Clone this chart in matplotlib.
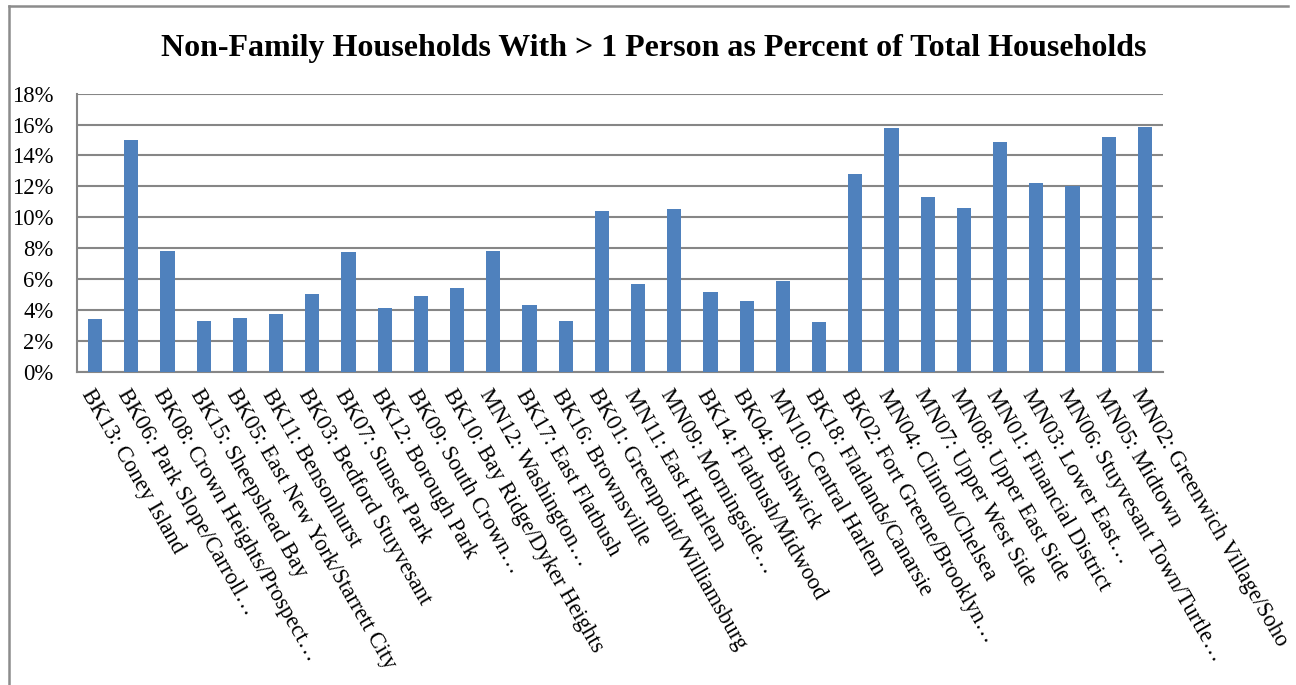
import numpy as np
import matplotlib
matplotlib.use('Agg')
from matplotlib import pyplot as plt
from matplotlib.lines import Line2D
from matplotlib.ticker import FuncFormatter, MultipleLocator

districts = ['BK13: Coney Island', 'BK06: Park Slope/Carroll\u2026',
             'BK08: Crown Heights/Prospect\u2026', 'BK15: Sheepshead Bay',
             'BK05: East New York/Starrett City', 'BK11: Bensonhurst',
             'BK03: Bedford Stuyvesant', 'BK07: Sunset Park',
             'BK12: Borough Park', 'BK09: South Crown\u2026',
             'BK10: Bay Ridge/Dyker Heights', 'MN12: Washington\u2026',
             'BK17: East Flatbush', 'BK16: Brownsville',
             'BK01: Greenpoint/Williamsburg', 'MN11: East Harlem',
             'MN09: Morningside\u2026', 'BK14: Flatbush/Midwood',
             'BK04: Bushwick', 'MN10: Central Harlem',
             'BK18: Flatlands/Canarsie', 'BK02: Fort Greene/Brooklyn\u2026',
             'MN04: Clinton/Chelsea', 'MN07: Upper West Side',
             'MN08: Upper East Side', 'MN01: Financial District',
             'MN03: Lower East\u2026', 'MN06: Stuyvesant Town/Turtle\u2026',
             'MN05: Midtown', 'MN02: Greenwich Village/Soho']
pct = [3.39, 14.98, 7.81, 3.30, 3.45, 3.76, 5.01, 7.73, 4.14, 4.88,
       5.42, 7.83, 4.32, 3.30, 10.40, 5.65, 10.53, 5.14, 4.58, 5.85,
       3.19, 12.78, 15.80, 11.31, 10.60, 14.85, 12.24, 12.00, 15.19, 15.86]

plt.rcParams['font.family'] = ['Liberation Serif', 'DejaVu Serif']

fig = plt.figure(figsize=(12.96, 6.85), dpi=100)
ax = fig.add_axes([0.0594, 0.4574, 0.838, 0.4058])

x = np.arange(len(districts))
ax.bar(x, pct, width=0.39, color='#4F81BD', zorder=3)

ax.set_xlim(-0.5, len(districts) - 0.5)
ax.set_ylim(0, 18)
ax.yaxis.set_major_locator(MultipleLocator(2))
ax.yaxis.set_major_formatter(FuncFormatter(lambda v, p: '%d%%' % v))
ax.grid(axis='y', color='#868686', linewidth=1.5, zorder=0)
ax.tick_params(axis='y', length=0, pad=17, labelsize=16.3)
ax.tick_params(axis='x', length=0, pad=10)

ax.set_xticks(x)
ax.set_xticklabels(districts, rotation=-60, ha='left', va='top',
                   rotation_mode='anchor', fontsize=16.3)

for side in ['top', 'right']:
    ax.spines[side].set_visible(False)
for side in ['left', 'bottom']:
    ax.spines[side].set_color('#868686')
    ax.spines[side].set_linewidth(1.5)

fig.text(0.5046, 0.929, 'Non-Family Households With > 1 Person as Percent of Total Households',
         ha='center', va='center', fontsize=23.0, fontweight='bold')

# chart area border (left and top edges)
W, H = 1296, 685
fig.add_artist(Line2D([8.5 / W, 8.5 / W], [0, 1 - 6 / H], color='#8c8c8c', linewidth=1.8))
fig.add_artist(Line2D([8.5 / W, 1288 / W], [1 - 6 / H, 1 - 6 / H], color='#8c8c8c', linewidth=1.8))

fig.savefig('out.png', dpi=100, facecolor='white')
